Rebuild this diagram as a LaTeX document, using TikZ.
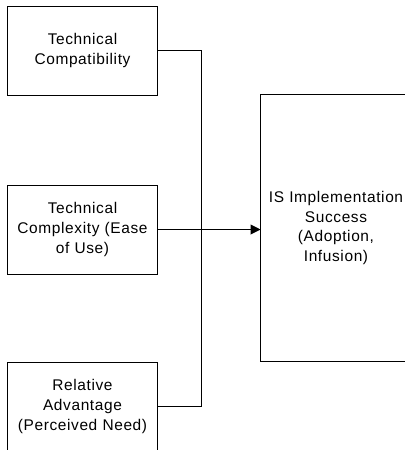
\documentclass[tikz,border=0pt]{standalone}
\usepackage{fontspec}
\setmainfont{Liberation Sans}[LetterSpace=4]
\usetikzlibrary{arrows.meta,positioning}
\tikzset{
  factor/.style={draw, line width=0.7pt, minimum width=3.725cm, minimum height=2.225cm,
    align=center, text width=3.6cm, inner sep=0pt, font=\fontsize{11}{14.2}\selectfont},
  outcome/.style={factor, minimum width=3.75cm, minimum height=6.65cm},
  link/.style={line width=0.7pt}
}
\begin{document}
\begin{tikzpicture}[x=0.025cm,y=-0.025cm]
	\clip (0,0) rectangle (405,450);
	\node[factor] (compat) at (82.5,50.5) {Technical\\Compatibility};
	\node[factor] (complex) at (82.5,229.5) {Technical\\Complexity (Ease\\of Use)};
	\node[factor] (advant) at (82.5,406.5) {Relative\\Advantage\\(Perceived Need)};
	\node[outcome] (success) at (336,228) {IS Implementation\\Success\\(Adoption,\\Infusion)};
	\coordinate (joint) at (201,0);
	\draw[link] (compat.east) -- (compat.east -| joint) -- (advant.east -| joint) -- (advant.east);
	\draw[link,-{Triangle[length=7pt,width=7pt]}] (complex.east) -- (complex.east -| success.west);
\end{tikzpicture}
\end{document}
